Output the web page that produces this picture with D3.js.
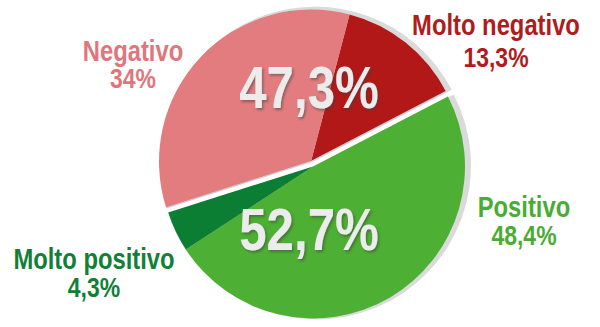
<!DOCTYPE html>
<html>
<head>
<meta charset="utf-8">
<script src="https://cdn.jsdelivr.net/npm/d3@7"></script>
<style>
  html, body { margin: 0; padding: 0; background: #ffffff; }
  svg { display: block; }
  text { font-family: "Liberation Sans", Arial, sans-serif; font-weight: bold; }
</style>
</head>
<body>
<script>
// ---- data ----
const categories = ["Molto negativo", "Positivo", "Molto positivo", "Negativo"];
const values = [13.3, 48.4, 4.3, 34];
const valueLabels = ["13,3%", "48,4%", "4,3%", "34%"];
const groups = ["neg", "pos", "pos", "neg"];
const groupNames = ["neg", "pos"];
const groupTotals = ["47,3%", "52,7%"];

// ---- styles ----
const colors = ["#b21818", "#4daf33", "#0b7e34", "#e27c7f"];
const labelColors = ["#b01c1c", "#4aad33", "#127f36", "#e0767b"];
const narrow = 0.82; // emulate a condensed bold face

const W = 600, H = 327;
const cx = 312, cy = 164, R = 152, explode = 2.6;
const startAngle = 14.7 * Math.PI / 180;

const svg = d3.select("body").append("svg").attr("width", W).attr("height", H);

const defs = svg.append("defs");
const f = defs.append("filter").attr("id", "ds").attr("x", "-10%").attr("y", "-10%").attr("width", "120%").attr("height", "130%");
f.append("feDropShadow").attr("dx", 1.5).attr("dy", 2).attr("stdDeviation", 0.8)
  .attr("flood-color", "#3c3c3c").attr("flood-opacity", 0.5);

const pie = d3.pie().sort(null).value(d => d)
  .startAngle(startAngle).endAngle(startAngle + 2 * Math.PI);
const arcsData = pie(values);

const groupExt = {
  pos: { s: arcsData[1].startAngle, e: arcsData[2].endAngle },
  neg: { s: arcsData[3].startAngle, e: arcsData[0].endAngle + 2 * Math.PI }
};
function offsetOf(g) {
  const mid = (groupExt[g].s + groupExt[g].e) / 2;
  return [Math.sin(mid) * explode, -Math.cos(mid) * explode];
}

const arc = d3.arc().innerRadius(0).outerRadius(R);
const shadowArc = d3.arc().innerRadius(0).outerRadius(R + 2);

// shadow rim
groupNames.forEach(g => {
  const [dx, dy] = offsetOf(g);
  svg.append("path")
    .attr("transform", `translate(${cx + dx + 4},${cy + dy - 1})`)
    .attr("d", shadowArc({ startAngle: groupExt[g].s, endAngle: groupExt[g].e }))
    .attr("fill", "#dadada");
});

// slices
arcsData.forEach((a, i) => {
  const [dx, dy] = offsetOf(groups[i]);
  svg.append("path")
    .attr("transform", `translate(${cx + dx},${cy + dy})`)
    .attr("d", arc(a))
    .attr("fill", colors[i]);
});

// thin grey line under the negative group edge
{
  const [dx, dy] = offsetOf("neg");
  const a0 = groupExt.neg.s, a1 = groupExt.neg.e;
  const p0 = [cx + dx + Math.sin(a0) * R, cy + dy - Math.cos(a0) * R];
  const p1 = [cx + dx + Math.sin(a1) * R, cy + dy - Math.cos(a1) * R];
  svg.append("path")
    .attr("d", d3.line()([p0, [cx + dx, cy + dy], p1]))
    .attr("fill", "none").attr("stroke", "#cfcfcf").attr("stroke-width", 1.2);
}

function condensed(sel) {
  sel.each(function () {
    const w = this.getComputedTextLength();
    d3.select(this).attr("textLength", w * narrow).attr("lengthAdjust", "spacingAndGlyphs");
  });
  return sel;
}

// category labels
const labelPos = [
  { x: 496, y1: 35, y2: 67 },   // Molto negativo
  { x: 524, y1: 217, y2: 245 }, // Positivo
  { x: 94, y1: 269, y2: 297 },  // Molto positivo
  { x: 133, y1: 61, y2: 88 }    // Negativo
];
categories.forEach((c, i) => {
  const p = labelPos[i];
  svg.append("text").attr("x", p.x).attr("y", p.y1)
    .attr("text-anchor", "middle").attr("font-size", 29)
    .attr("fill", labelColors[i]).text(c).call(condensed);
  svg.append("text").attr("x", p.x).attr("y", p.y2)
    .attr("text-anchor", "middle").attr("font-size", 28)
    .attr("fill", labelColors[i]).text(valueLabels[i]).call(condensed);
});

// big group totals
const bigPos = [{ x: 309, y: 108 }, { x: 309, y: 250 }];
groupNames.forEach((g, i) => {
  svg.append("text").attr("x", bigPos[i].x).attr("y", bigPos[i].y)
    .attr("text-anchor", "middle").attr("font-size", 60)
    .attr("fill", "#ececec").attr("filter", "url(#ds)")
    .text(groupTotals[i]).call(condensed);
});
</script>
</body>
</html>
